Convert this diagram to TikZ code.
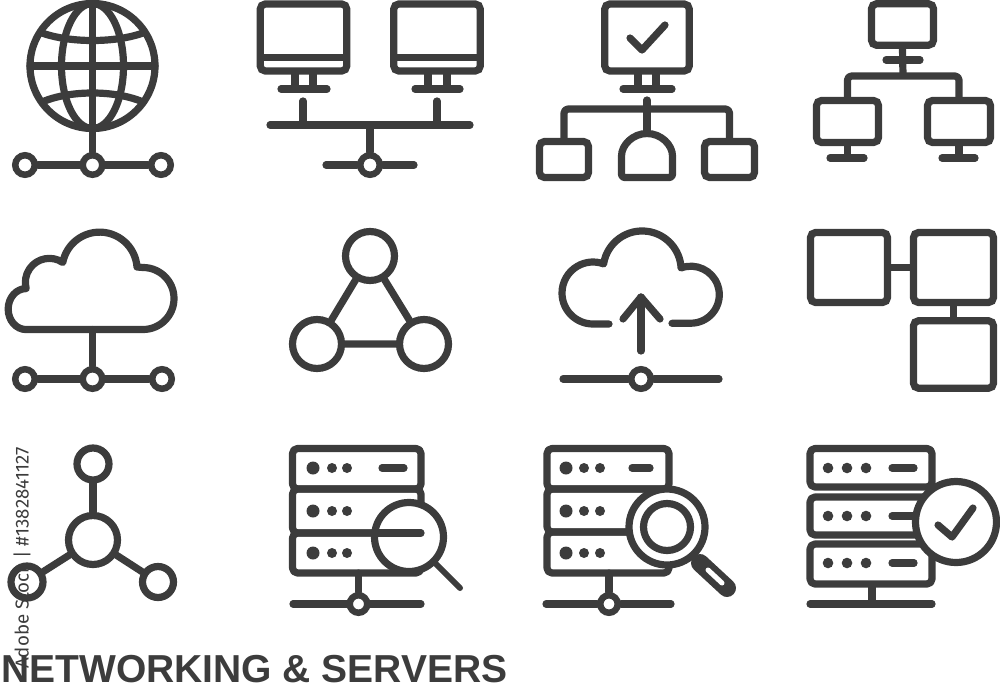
\documentclass[tikz,border=0pt]{standalone}
\usepackage{fontspec}
\setsansfont{Fira Sans}
\newfontfamily\titlefont{Liberation Sans}
\usetikzlibrary{calc}
\definecolor{icondark}{HTML}{3C3C3C}
\tikzset{
  icon/.style={draw=icondark,line width=7.2pt,line cap=round,line join=round},
  hub/.style={circle,draw=icondark,fill=white,line width=6.5pt,inner sep=0pt,minimum size=19.5pt},
  smallhub/.style={hub,minimum size=17.5pt},
  ring/.style={circle,draw=icondark,fill=white,line width=7.2pt,inner sep=0pt},
  screen/.style={rectangle,draw=icondark,line width=7.2pt,rounded corners=5pt,inner sep=0pt},
  dot/.style={fill=icondark,draw=none}
}
\begin{document}
\begin{tikzpicture}[x=1pt,y=-1pt]
\useasboundingbox (0,0) rectangle (1000,685);

% globe
\node[ring,minimum size=125pt] (globe) at (92.5,66) {};
\draw[icon] (92.5,66) ellipse [x radius=31,y radius=62.5];
\draw[icon] (30,66) -- (155,66);
\draw[icon] (92.5,4) -- (92.5,128);
\draw[icon,line cap=butt] (42,33) .. controls (70,43) and (115,43) .. (143,33);
\draw[icon,line cap=butt] (42,102) .. controls (70,90) and (115,90) .. (143,102);
\node[hub] (globeL) at (25,165) {};
\node[hub] (globeM) at (92.5,165) {};
\node[hub] (globeR) at (161,165) {};
\draw[icon] (globe) -- (globeM);
\draw[icon] (globeL) -- (globeM) -- (globeR);

% two monitors on a bus
\foreach \mx/\sa/\sb/\ba/\bb in {303.5/295/313/281/327,437/428/447/415/460}{
  \node[screen,minimum width=86.5pt,minimum height=67pt] at (\mx,37.5) {};
  \draw[icon,line width=7pt,line cap=butt] (\mx-43,57.5) -- (\mx+43,57.5);
  \draw[icon,line cap=butt] (\sa,71) -- (\sa,89);
  \draw[icon,line cap=butt] (\sb,71) -- (\sb,89);
  \draw[icon] (\ba,89) -- (\bb,89);
}
\coordinate (busA) at (270,125);
\coordinate (busB) at (470,125);
\coordinate (pinA) at (303,101);
\coordinate (pinB) at (437,101);
\coordinate (busC) at (370,125);
\draw[icon] (busA) -- (busB);
\draw[icon] (pinA) -- (pinA|-busA);
\draw[icon] (pinB) -- (pinB|-busA);
\node[hub] (lanHub) at (370,165) {};
\coordinate (lanL) at (326,165);
\coordinate (lanR) at (414,165);
\draw[icon] (busC) -- (lanHub);
\draw[icon] (lanL) -- (lanHub) -- (lanR);

% monitor with check, three boxes
\node[screen,minimum width=84.5pt,minimum height=67pt] (chkScreen) at (647,37.5) {};
\draw[icon] (630,38) -- (642,50) -- (665,25);
\draw[icon,line cap=butt] (638,71) -- (638,89);
\draw[icon,line cap=butt] (656,71) -- (656,89);
\draw[icon] (623,89) -- (672,89);
\node[screen,minimum width=49pt,minimum height=36pt] (boxL) at (564,159.5) {};
\node[screen,minimum width=50pt,minimum height=36pt] (boxR) at (729.5,159.5) {};
\draw[icon,rounded corners=3pt] (621.5,177.5) -- (621.5,159) arc[start angle=180,end angle=360,radius=25.5] -- (672.5,177.5) -- cycle;
\coordinate (domeTop) at (647,133.5);
\coordinate (chkPin) at (647,100);
\draw[icon,rounded corners=4pt] (boxL.north) -- (564,109) -- (729.5,109) -- (boxR.north);
\draw[icon] (chkPin) -- (domeTop);

% monitor tree
\node[screen,minimum width=62pt,minimum height=41.5pt] (topScreen) at (902.5,24.5) {};
\node[screen,minimum width=62pt,minimum height=42pt] (leftScreen) at (847.5,121.5) {};
\node[screen,minimum width=63pt,minimum height=42pt] (rightScreen) at (959,121.5) {};
\coordinate (treeBus) at (903,76);
\draw[icon,line cap=butt] (topScreen.south) -- (treeBus);
\draw[icon] (886,60) -- (920,60);
\draw[icon,rounded corners=4pt] (leftScreen.north) -- (847.5,76) -- (959,76) -- (rightScreen.north);
\draw[icon,line cap=butt] (leftScreen.south) -- (847.5,158);
\draw[icon] (830,158) -- (864,158);
\draw[icon,line cap=butt] (rightScreen.south) -- (959,158);
\draw[icon] (942,158) -- (975,158);

% cloud with three hubs
\draw[icon] (26.2,329.5) -- (143,329.5) arc[start angle=90,end angle=-90,radius=31]
  -- (137,267) arc[start angle=-4,end angle=-169,radius=37.5]
  arc[start angle=-56,end angle=-195,radius=24]
  arc[start angle=-90,end angle=-270,x radius=18,y radius=20.5] -- cycle;
\coordinate (cloudFoot) at (92.5,329.5);
\node[hub] (cloudL) at (25,379) {};
\node[hub] (cloudM) at (92.5,379) {};
\node[hub] (cloudR) at (162,379) {};
\draw[icon] (cloudFoot) -- (cloudM);
\draw[icon] (cloudL) -- (cloudM) -- (cloudR);

% triangle
\node[ring,minimum size=49pt] (triT) at (370,256) {};
\node[ring,minimum size=49pt] (triL) at (317,344) {};
\node[ring,minimum size=49pt] (triR) at (424,344) {};
\draw[icon] (triT) -- (triL) -- (triR) -- (triT);

% upload cloud
\draw[icon] (609,324) -- (593,324) arc[start angle=90,end angle=290,radius=31]
  arc[start angle=189,end angle=357,radius=39]
  arc[start angle=250,end angle=450,radius=28.5] -- (672,323.3);
\coordinate (arrowTail) at (641,351);
\coordinate (arrowTip) at (641,297);
\draw[icon] (arrowTail) -- (arrowTip);
\draw[icon] (623,319) -- (arrowTip) -- (660,319);
\node[hub] (upHub) at (641,379) {};
\coordinate (upL) at (563,379);
\coordinate (upR) at (719,379);
\draw[icon] (upL) -- (upHub) -- (upR);

% three squares
\node[screen,minimum width=77pt,minimum height=70pt] (sqA) at (849,267.5) {};
\node[screen,minimum width=80pt,minimum height=70pt] (sqB) at (953.5,267.5) {};
\node[screen,minimum width=80pt,minimum height=67.5pt] (sqC) at (953.5,354.5) {};
\draw[icon] (sqA) -- (sqB);
\draw[icon] (sqB) -- (sqC);

% star
\node[ring,minimum size=49pt] (starM) at (93,540) {};
\node[ring,minimum size=32pt] (starT) at (93,464) {};
\node[ring,minimum size=32pt] (starL) at (27,582) {};
\node[ring,minimum size=31pt] (starR) at (158,582) {};
\draw[icon] (starM) -- (starT);
\draw[icon] (starM) -- (starL);
\draw[icon] (starM) -- (starR);

% server with minus lens
\foreach \ta/\tb in {448.5/489,489/533,533/573}
  \draw[icon,rounded corners=5pt] (292.5,\ta) rectangle (421,\tb);
\foreach \ry in {468,511,553}{
  \fill[dot] (313,\ry) circle (6.5);
  \fill[dot] (332,\ry) circle (5);
  \fill[dot] (347,\ry) circle (5);
}
\draw[icon] (382,468) -- (404,468);
\node[ring,minimum size=69pt] (lensA) at (409,537) {};
\draw[icon] (375,533) -- (421,533);
\coordinate (handleA) at (460,588);
\draw[icon,line width=6pt] (lensA) -- (handleA);
\node[smallhub] (srvHubA) at (358.5,604) {};
\coordinate (srvFootA) at (358.5,573);
\coordinate (srvBusAL) at (293,604);
\coordinate (srvBusAR) at (421,604);
\draw[icon] (srvFootA) -- (srvHubA);
\draw[icon] (srvBusAL) -- (srvHubA) -- (srvBusAR);

% server with round lens
\foreach \ta/\tb in {448.5/489,489/532,532/573}
  \draw[icon,rounded corners=5pt] (547,\ta) rectangle (669,\tb);
\foreach \ry in {468,511,553}{
  \fill[dot] (566,\ry) circle (6.5);
  \fill[dot] (584,\ry) circle (5);
  \fill[dot] (600,\ry) circle (5);
}
\draw[icon] (632,468) -- (650,468);
\draw[draw=icondark,line width=18pt,line cap=round] (700,563) -- (727,588);
\draw[draw=white,line width=5pt,line cap=round] (708,570) -- (722,583);
\node[ring,minimum size=76pt] (lensB) at (667,527) {};
\node[ring,minimum size=47pt] (lensInner) at (667,527) {};
\node[smallhub] (srvHubB) at (609,604) {};
\coordinate (srvFootB) at (609,573);
\coordinate (srvBusBL) at (546,604);
\coordinate (srvBusBR) at (671,604);
\draw[icon] (srvFootB) -- (srvHubB);
\draw[icon] (srvBusBL) -- (srvHubB) -- (srvBusBR);

% server with check badge
\foreach \ta/\tb in {448.5/487,497/535,544/584}
  \draw[icon,rounded corners=5pt] (810,\ta) rectangle (932,\tb);
\foreach \ry in {468,516,563}{
  \fill[dot] (828,\ry) circle (5.3);
  \fill[dot] (847,\ry) circle (5.3);
  \fill[dot] (866,\ry) circle (5.3);
  \draw[icon] (892,\ry) -- (914,\ry);
}
\node[ring,minimum size=81pt] (badge) at (956,522) {};
\draw[icon] (938,525) -- (952,537) -- (973,508);
\coordinate (srvFootC) at (872,584);
\coordinate (srvBaseC) at (872,604);
\draw[icon,line cap=butt] (srvFootC) -- (srvBaseC);
\draw[icon] (810,604) -- (932,604);

\node[anchor=base west,inner sep=0pt,text=icondark,font=\titlefont\bfseries\fontsize{39}{39}\selectfont] (title) at (1,682.5) {NETWORKING \& SERVERS};
\node[anchor=west,rotate=90,inner sep=0pt,text=icondark,font=\sffamily\fontsize{18.7}{18.7}\selectfont] (stockId) at (22,669) {Adobe Stock | \#1382841127};
\end{tikzpicture}
\end{document}
